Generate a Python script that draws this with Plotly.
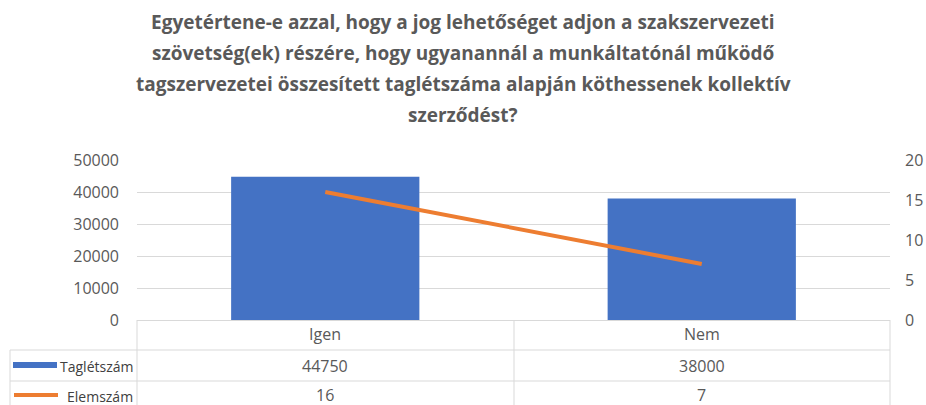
import plotly.graph_objects as go

categories = ["Igen", "Nem"]
tagletszam = [44750, 38000]
elemszam = [16, 7]
series_names = ["Taglétszám", "Elemszám"]
title_lines = [
    "Egyetértene-e azzal, hogy a jog lehetőséget adjon a szakszervezeti",
    "szövetség(ek) részére, hogy ugyanannál a munkáltatónál működő",
    "tagszervezetei összesített taglétszáma alapján köthessenek kollektív",
    "szerződést?",
]

W, H = 926, 405
L, R, T, B = 137, 890, 160, 320
FONT = "Open Sans, sans-serif"
GRAY = "#595959"
GRID = "#d9d9d9"
BLUE = "#4472C4"
ORANGE = "#ED7D31"

def px(x):
    return (x - L) / (R - L)

def py(y):
    return (B - y) / (B - T)

fig = go.Figure()
fig.add_trace(go.Bar(x=categories, y=tagletszam, name=series_names[0],
                     marker=dict(color=BLUE, line=dict(width=0)), width=0.5,
                     yaxis="y"))
fig.add_trace(go.Scatter(x=categories, y=elemszam, name=series_names[1],
                         mode="lines", line=dict(color=ORANGE, width=4),
                         yaxis="y2"))

shapes = []
def hline(x0, x1, y):
    shapes.append(dict(type="line", xref="paper", yref="paper",
                       x0=px(x0), x1=px(x1), y0=py(y), y1=py(y),
                       line=dict(color=GRID, width=1)))
def vline(x, y0, y1):
    shapes.append(dict(type="line", xref="paper", yref="paper",
                       x0=px(x), x1=px(x), y0=py(y0), y1=py(y1),
                       line=dict(color=GRID, width=1)))

hline(137, 890, 320.5)
hline(10, 890, 350)
hline(10, 890, 381)
vline(10, 350, 406)
vline(137, 320, 406)
vline(514, 320, 406)
vline(890, 320, 406)
# legend keys in table
shapes.append(dict(type="rect", xref="paper", yref="paper",
                   x0=px(13), x1=px(57), y0=py(368), y1=py(362),
                   fillcolor=BLUE, line=dict(width=0)))
shapes.append(dict(type="line", xref="paper", yref="paper",
                   x0=px(14), x1=px(58), y0=py(395), y1=py(395),
                   line=dict(color=ORANGE, width=4)))

ann = []
for i, t in enumerate(title_lines):
    ann.append(dict(text="<b>" + t + "</b>", xref="paper", yref="paper",
                    x=px(463), y=py(22 + i * 31), xanchor="center", yanchor="middle",
                    showarrow=False, font=dict(family=FONT, size=19, color=GRAY)))
def cell(text, c, y):
    ann.append(dict(text=text, x=c, xref="x", yref="paper", y=py(y),
                    xanchor="center", yanchor="middle",
                    showarrow=False, font=dict(family=FONT, size=16, color=GRAY)))
for c in categories:
    cell(c, c, 334)
for c, v in zip(categories, tagletszam):
    cell(str(v), c, 366)
for c, v in zip(categories, elemszam):
    cell(str(v), c, 395)
ann.append(dict(text=series_names[0], xref="paper", yref="paper", x=px(58), y=py(366),
                xanchor="left", yanchor="middle", showarrow=False,
                font=dict(family=FONT, size=14, color="#404040")))
ann.append(dict(text=series_names[1], xref="paper", yref="paper", x=px(65), y=py(396),
                xanchor="left", yanchor="middle", showarrow=False,
                font=dict(family=FONT, size=14, color="#404040")))

fig.update_layout(
    width=W, height=H, autosize=False,
    margin=dict(l=L, r=W - R, t=T, b=H - B, pad=0),
    paper_bgcolor="white", plot_bgcolor="white",
    showlegend=False, bargap=0.5,
    xaxis=dict(range=[-0.5, 1.5], showticklabels=False, showgrid=False,
               zeroline=False, showline=False, ticks="", automargin=False),
    yaxis=dict(range=[0, 50000], dtick=10000, tickformat="d", showgrid=True, gridcolor=GRID,
               gridwidth=1, zeroline=False, showline=False, ticks="",
               ticklabelstandoff=17, automargin=False,
               tickfont=dict(family=FONT, size=16, color=GRAY)),
    yaxis2=dict(range=[0, 20], dtick=5, overlaying="y", side="right",
                showgrid=False, zeroline=False, showline=False, ticks="",
                ticklabelstandoff=14, automargin=False,
                tickfont=dict(family=FONT, size=16, color=GRAY)),
    shapes=shapes, annotations=ann,
)

fig.write_html("out.html", config={"displayModeBar": False},
               post_script="document.body.style.margin='0';document.body.style.overflow='hidden';")
